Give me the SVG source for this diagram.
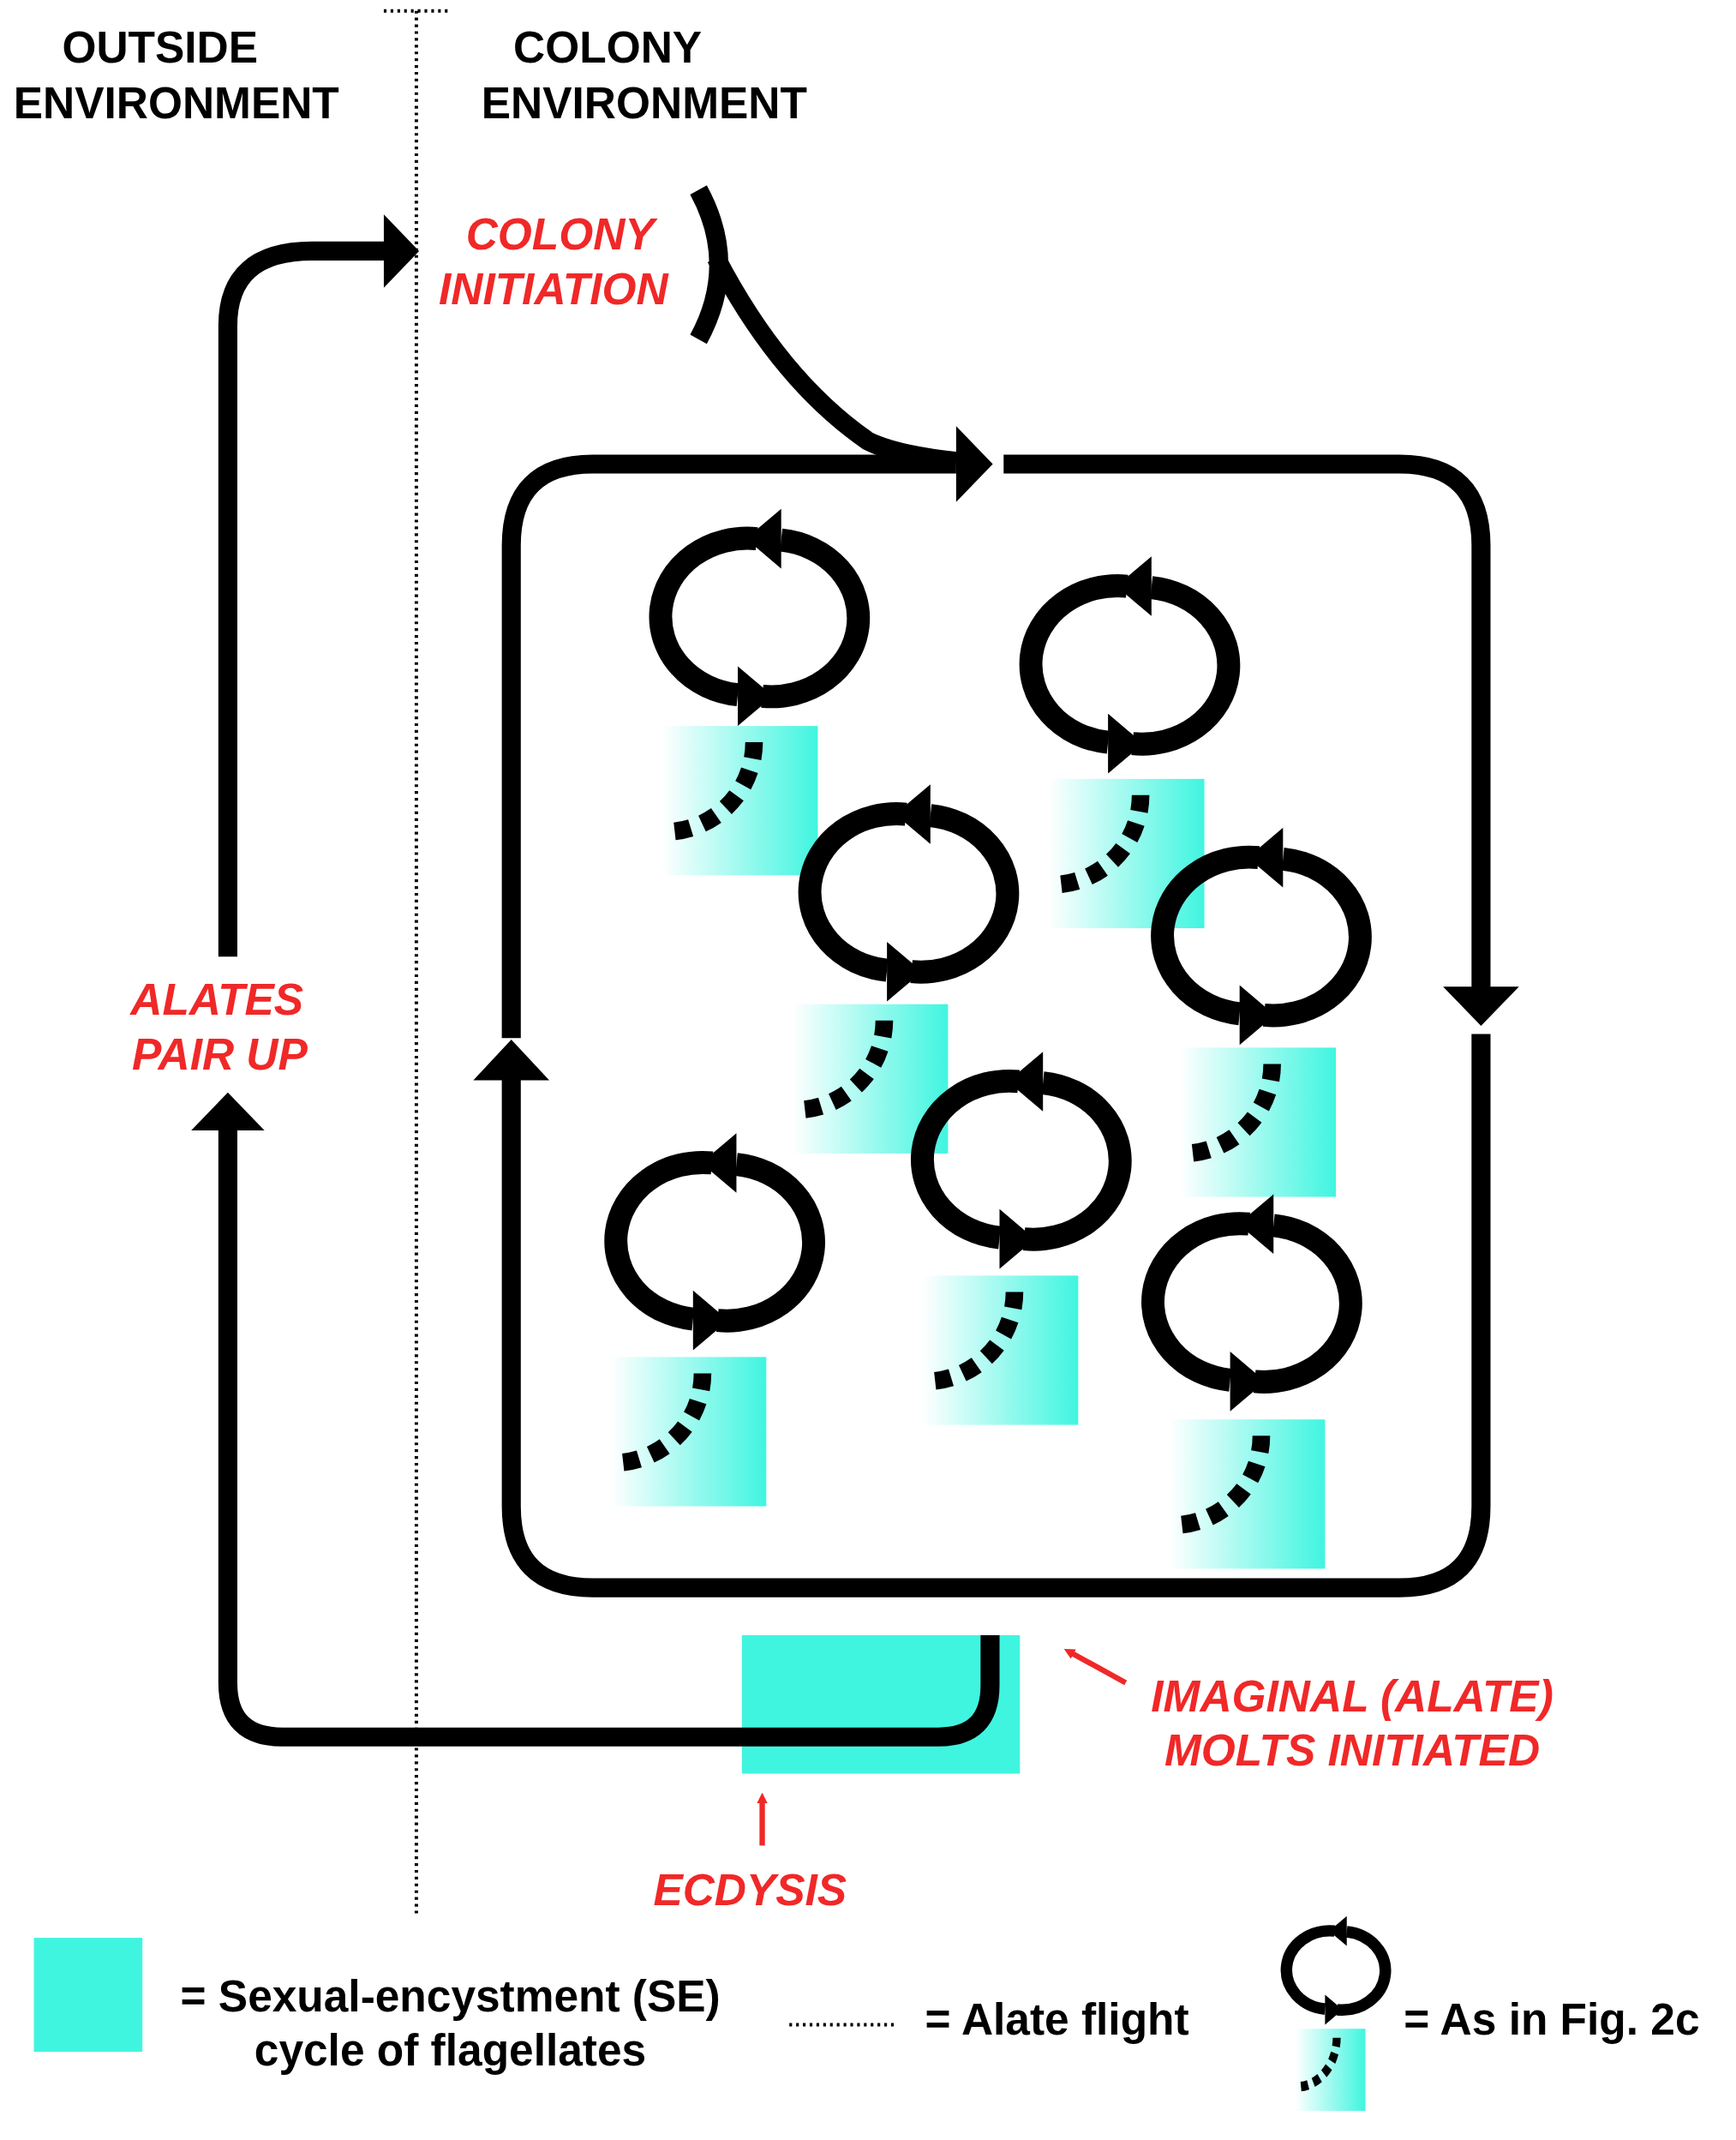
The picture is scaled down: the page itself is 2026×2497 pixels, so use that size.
<svg xmlns="http://www.w3.org/2000/svg" xmlns:xlink="http://www.w3.org/1999/xlink" width="2026" height="2497" viewBox="0 0 2026 2497">
<style>
.h{font-family:"Liberation Sans",Arial,sans-serif;font-weight:bold;font-size:32.5px;fill:#000}
.r{font-family:"Liberation Sans",Arial,sans-serif;font-weight:bold;font-style:italic;font-size:32.5px;fill:#f02828}
.ln{fill:none;stroke:#000;stroke-width:14;stroke-linejoin:round}
.dot{fill:none;stroke:#000;stroke-width:2.5;stroke-dasharray:2 3}
.ra{stroke:#f02828;stroke-width:4;fill:none}
</style>
<defs>
<linearGradient id="gr" x1="0" x2="1" y1="0" y2="0"><stop offset="0" stop-color="#fff"/><stop offset="1" stop-color="#40f5e0"/></linearGradient>
<g id="cyc">
<path d="M-2,-58 A63 57 0 0 0 -16,57" fill="none" stroke="#000" stroke-width="17"/>
<polygon points="10,58 -16,36 -16,80"/>
<path d="M2,58 A63 57 0 0 0 16,-57" fill="none" stroke="#000" stroke-width="17"/>
<polygon points="-10,-58 16,-80 16,-36"/>
</g>
<g id="box">
<rect x="0" y="0" width="115" height="110" fill="url(#gr)"/>
<path d="M68,12 A66 66 0 0 1 2,78" fill="none" stroke="#000" stroke-width="13" stroke-dasharray="12 9"/>
</g>
<marker id="ra" markerWidth="8" markerHeight="8" refX="4" refY="4" orient="auto" markerUnits="userSpaceOnUse" viewBox="0 0 8 8"><path d="M0,0 L8,4 L0,8z" fill="#f02828"/></marker>
</defs>
<rect width="2026" height="2497" fill="#fff"/>
<g transform="scale(1.5828,1.5834)">
<g id="headers">
<text class="h" x="118" y="46" text-anchor="middle">OUTSIDE</text>
<text class="h" x="130" y="87" text-anchor="middle">ENVIRONMENT</text>
<text class="h" x="448" y="46" text-anchor="middle">COLONY</text>
<text class="h" x="475" y="87" text-anchor="middle">ENVIRONMENT</text>
</g>
<g id="connectors">
<path class="dot" d="M307,8 V1410 M283,8 H333"/>
<path class="ln" d="M515,140 Q545,195 515,250" stroke-width="10"/>
<path class="ln" d="M528,190 Q575,280 640,325 Q660,335 705,340" stroke-width="10"/>
<path class="ln" d="M705,342 H437 Q377,342 377,402 V765"/>
<path class="ln" d="M740,342 H1032 Q1092,342 1092,402 V740"/>
<path class="ln" d="M1092,762 V1110 Q1092,1170 1032,1170 H437 Q377,1170 377,1110 V795"/>
<polygon points="732,342 705,314 705,370"/>
<polygon points="1092,756 1064,727 1120,727"/>
<polygon points="377,766 349,796 405,796"/>
<rect x="547" y="1205" width="205" height="102" fill="#40f5e0"/>
<path class="ln" d="M730,1205 V1242 Q730,1280 692,1280 H208 Q168,1280 168,1240 V830"/>
<polygon points="168,805 141,833 195,833"/>
<path class="ln" d="M168,705 V240 Q168,185 230,185 H285"/>
<polygon points="309,185 283,158 283,212"/>
<line class="ra" x1="830" y1="1240" x2="788" y2="1217" marker-end="url(#ra)"/>
<line class="ra" x1="562" y1="1360" x2="562" y2="1325" marker-end="url(#ra)"/>
</g>
<g id="labels">
<text class="r" x="413" y="184" text-anchor="middle">COLONY</text>
<text class="r" x="408" y="224" text-anchor="middle">INITIATION</text>
<text class="r" x="160" y="748" text-anchor="middle">ALATES</text>
<text class="r" x="162" y="788" text-anchor="middle">PAIR UP</text>
<text class="r" x="997" y="1261" text-anchor="middle">IMAGINAL (ALATE)</text>
<text class="r" x="997" y="1301" text-anchor="middle">MOLTS INITIATED</text>
<text class="r" x="553" y="1404" text-anchor="middle">ECDYSIS</text>
</g>
<g id="cycles">
<use xlink:href="#cyc" x="560" y="455"/><use xlink:href="#box" x="488" y="535"/>
<use xlink:href="#cyc" x="833" y="490"/><use xlink:href="#box" x="773" y="574"/>
<use xlink:href="#cyc" x="670" y="658"/><use xlink:href="#box" x="584" y="740"/>
<use xlink:href="#cyc" x="930" y="690"/><use xlink:href="#box" x="870" y="772"/>
<use xlink:href="#cyc" x="753" y="855"/><use xlink:href="#box" x="680" y="940"/>
<use xlink:href="#cyc" x="527" y="915"/><use xlink:href="#box" x="450" y="1000"/>
<use xlink:href="#cyc" x="923" y="960"/><use xlink:href="#box" x="862" y="1046"/>
</g>
<g id="legend">
<rect x="25" y="1428" width="80" height="84" fill="#40f5e0"/>
<text class="h" x="133" y="1482">= Sexual-encystment (SE)</text>
<text class="h" x="332" y="1522" text-anchor="middle">cycle of flagellates</text>
<path class="dot" d="M582,1492 H662"/>
<text class="h" x="682" y="1499">= Alate flight</text>
<g transform="translate(985,1452) scale(0.5)"><use xlink:href="#cyc"/></g>
<g transform="translate(955,1495) scale(0.45,0.55)"><use xlink:href="#box"/></g>
<text class="h" x="1035" y="1499">= As in Fig. 2c</text>
</g>
</g>
</svg>
